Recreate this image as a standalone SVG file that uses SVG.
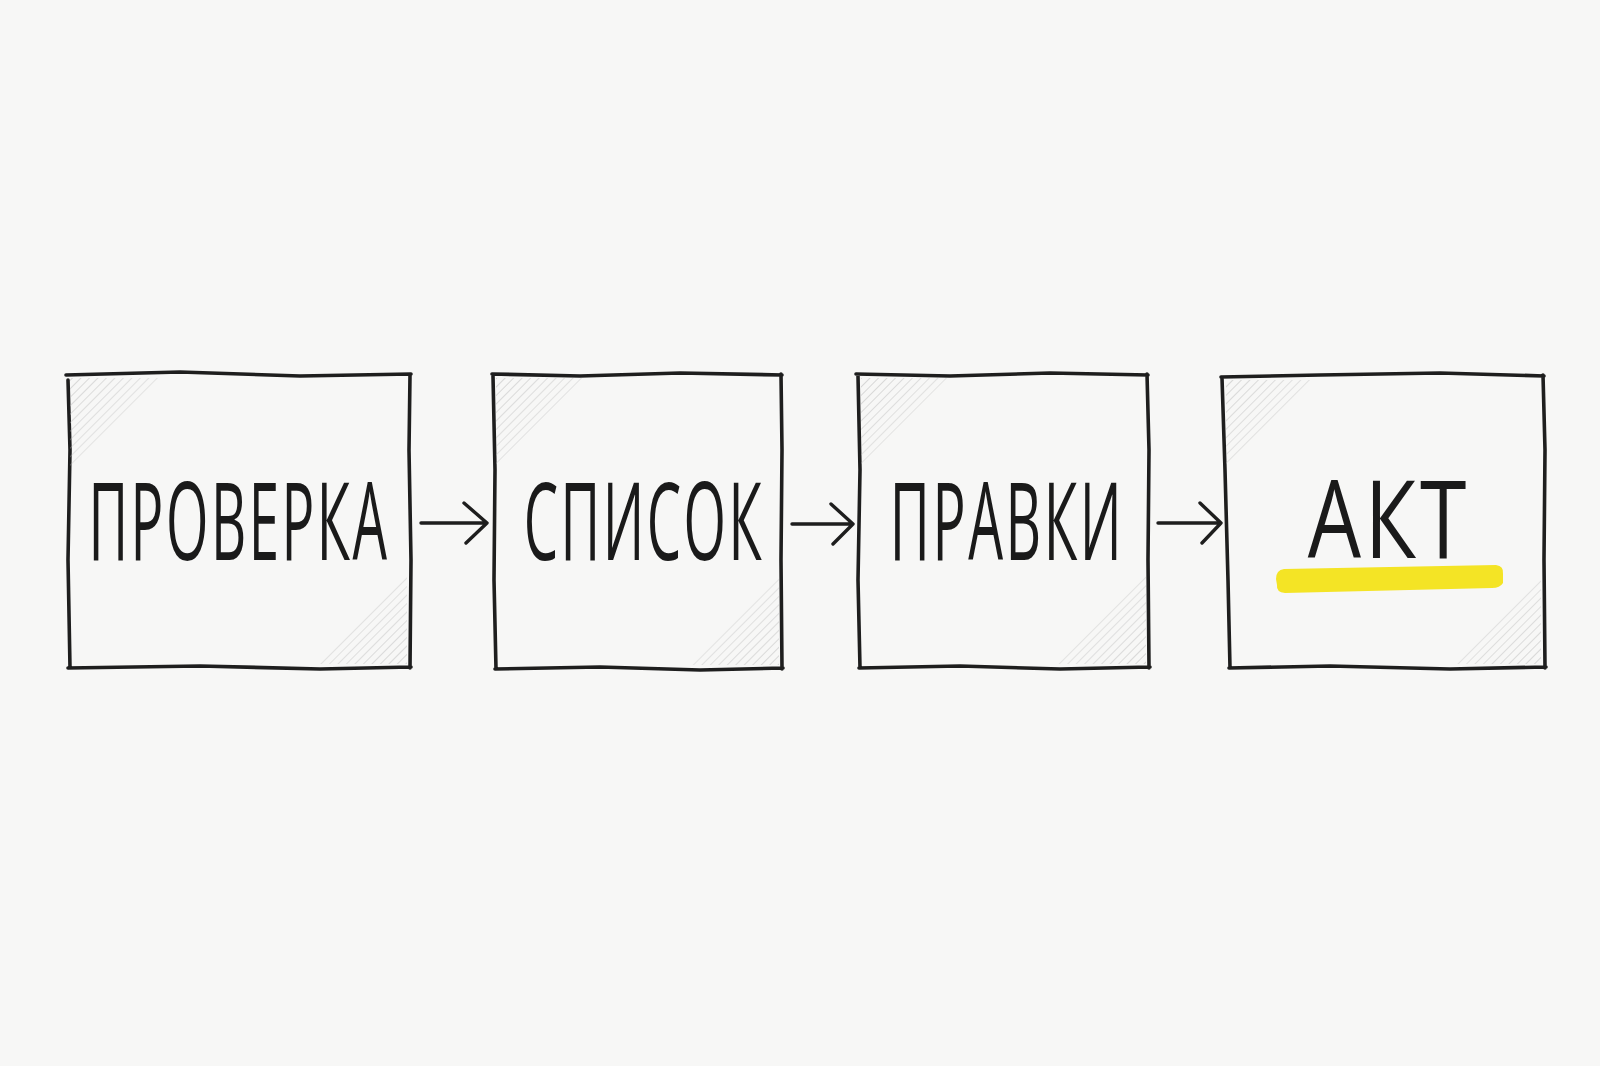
<svg xmlns="http://www.w3.org/2000/svg" width="1600" height="1066" viewBox="0 0 1600 1066">
<style>
.box{fill:none;stroke:#1e1e1e;stroke-width:3.6;stroke-linejoin:round;stroke-linecap:round}
.lbl{font-family:"Open Sans","Liberation Sans",sans-serif;font-size:108px;fill:#1a1a1a;font-weight:500;text-anchor:middle;font-kerning:none;letter-spacing:5px}
.arr{fill:none;stroke:#1e1e1e;stroke-width:3.4;stroke-linecap:round;stroke-linejoin:round}
.hatch{stroke:#b9b9b9;stroke-width:1.1}
</style>
<defs>
<pattern id="hp" width="6" height="6" patternUnits="userSpaceOnUse" patternTransform="rotate(45)">
<line x1="0" y1="0" x2="0" y2="6" class="hatch"/>
</pattern>
<linearGradient id="fadeTL" x1="0" y1="0" x2="1" y2="1"><stop offset="0" stop-color="#fff" stop-opacity="1"/><stop offset="0.5" stop-color="#fff" stop-opacity="0.6"/><stop offset="1" stop-color="#fff" stop-opacity="0"/></linearGradient>
<mask id="mTL" maskContentUnits="objectBoundingBox"><rect width="1" height="1" fill="url(#fadeTL)"/></mask>
<linearGradient id="fadeBR" x1="1" y1="1" x2="0" y2="0"><stop offset="0" stop-color="#fff" stop-opacity="1"/><stop offset="0.5" stop-color="#fff" stop-opacity="0.6"/><stop offset="1" stop-color="#fff" stop-opacity="0"/></linearGradient>
<mask id="mBR" maskContentUnits="objectBoundingBox"><rect width="1" height="1" fill="url(#fadeBR)"/></mask>
</defs>
<rect width="1600" height="1066" fill="#f7f7f6"/>

<g id="node-proverka">
<path d="M68 380 L70 450 L68 560 L70 668 M68 668 L200 666 L320 669 L411 667 M410 668 L411 560 L409 450 L410 375 M411 374 L300 376 L180 372 L66 375" class="box"/>
<path d="M70 378 L160 378 L70 468 Z" fill="url(#hp)" mask="url(#mTL)"/>
<path d="M407 664 L317 664 L407 574 Z" fill="url(#hp)" mask="url(#mBR)"/>
<text transform="translate(239,560) scale(0.505,1)" class="lbl">ПРОВЕРКА</text>
</g>

<g id="node-spisok">
<path d="M493 376 L495 470 L494 580 L496 669 M495 669 L600 667 L700 670 L783 668 M782 669 L781 560 L782 450 L781 374 M782 375 L680 373 L580 376 L492 374" class="box"/>
<path d="M496 378 L586 378 L496 468 Z" fill="url(#hp)" mask="url(#mTL)"/>
<path d="M779 665 L689 665 L779 575 Z" fill="url(#hp)" mask="url(#mBR)"/>
<text transform="translate(644,560) scale(0.505,1)" class="lbl">СПИСОК</text>
</g>

<g id="node-pravki">
<path d="M858 376 L860 470 L858 580 L860 668 M859 668 L960 666 L1060 669 L1150 667 M1149 668 L1148 560 L1149 450 L1147 374 M1148 375 L1050 373 L950 376 L856 374" class="box"/>
<path d="M861 378 L951 378 L861 468 Z" fill="url(#hp)" mask="url(#mTL)"/>
<path d="M1146 664 L1056 664 L1146 574 Z" fill="url(#hp)" mask="url(#mBR)"/>
<text transform="translate(1007,560) scale(0.51,1)" class="lbl">ПРАВКИ</text>
</g>

<g id="node-akt">
<path d="M1222 378 L1225 470 L1228 580 L1230 668 M1229 668 L1330 666 L1450 669 L1546 667 M1545 668 L1544 560 L1545 450 L1543 375 M1544 376 L1440 373 L1320 375 L1221 377" class="box"/>
<path d="M1226 380 L1316 380 L1226 470 Z" fill="url(#hp)" mask="url(#mTL)"/>
<path d="M1541 664 L1451 664 L1541 574 Z" fill="url(#hp)" mask="url(#mBR)"/>
<path d="M1276 579 Q1276 570 1284 569 L1496 565 Q1504 566 1503 574 L1503 583 Q1500 588 1492 588 L1285 593 Q1276 592 1277 585 Z" fill="#f4e425"/>
<text transform="translate(1389,558) scale(0.78,1)" class="lbl" font-size="112">АКТ</text>
</g>

<g id="connectors">
<path d="M421 523 L487 523 M464 503 L487 523 L466 543" class="arr"/>
<path d="M792 524 L853 524 M831 504 L853 524 L833 544" class="arr"/>
<path d="M1158 523 L1221 523 M1200 503 L1221 523 L1202 543" class="arr"/>
</g>
</svg>
